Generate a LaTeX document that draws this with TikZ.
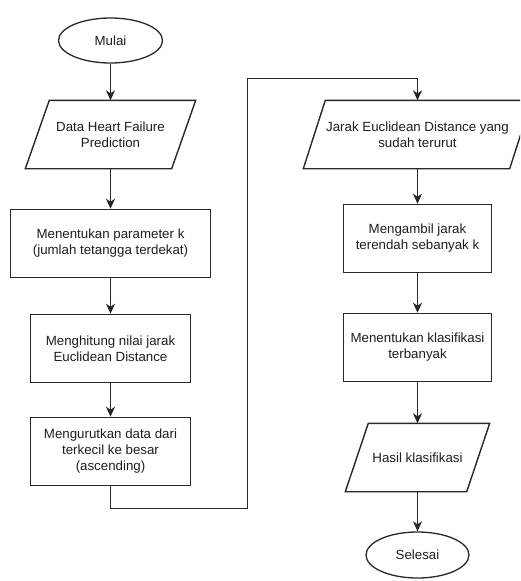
\documentclass[tikz,border=0pt]{standalone}
\usepackage{fontspec}
\setmainfont{Liberation Sans}
\usetikzlibrary{arrows.meta,calc,shapes.geometric}
\definecolor{ln}{RGB}{40,40,40}
\definecolor{tx}{RGB}{30,30,30}
\begin{document}
\begin{tikzpicture}[x=1pt,y=-1pt,
  every node/.style={font=\fontsize{13.3}{16}\selectfont, text=tx, align=center, inner sep=0pt},
  boxstyle/.style={draw=ln, line width=1.5pt, rectangle},
  ellstyle/.style={draw=ln, line width=1.3pt, ellipse, minimum width=104pt, minimum height=45pt},
  iobox/.style={rectangle, draw=none},
  lnk/.style={draw=ln, line width=1.5pt, -{Stealth[length=10pt,width=9pt,inset=3pt]}},
  para/.style={draw=ln, line width=1.4pt, line join=miter}
]
\useasboundingbox (0,0) rectangle (520,581);
\clip (0,0) rectangle (520,581);

% left column
\node[ellstyle] (mulai) at (110.5,40.5) {Mulai};
\node[iobox, minimum width=170pt, minimum height=68pt] (data) at (110.5,134.5) {Data Heart Failure\\Prediction};
\draw[para] ([xshift=24pt]data.north west) -- (data.north east) -- ([xshift=-24pt]data.south east) -- (data.south west) -- cycle;
\node[boxstyle, minimum width=200pt, minimum height=68pt] (param) at (110.5,243.5) {Menentukan parameter k\\(jumlah tetangga terdekat)};
\node[boxstyle, minimum width=160pt, minimum height=68pt] (hitung) at (110.5,348.5) {Menghitung nilai jarak\\Euclidean Distance};
\node[boxstyle, minimum width=160pt, minimum height=68pt] (urut) at (110.5,451.5) {Mengurutkan data dari\\terkecil ke besar\\(ascending)};

% right column
\node[iobox, minimum width=228pt, minimum height=68pt] (jarak) at (417.5,134.5) {Jarak Euclidean Distance yang\\sudah terurut};
\draw[para] ([xshift=22pt]jarak.north west) -- (jarak.north east) -- ([xshift=-22pt]jarak.south east) -- (jarak.south west) -- cycle;
\node[boxstyle, minimum width=148pt, minimum height=68pt] (ambil) at (417.5,238.5) {Mengambil jarak\\terendah sebanyak k};
\node[boxstyle, minimum width=148pt, minimum height=68pt] (klas) at (417.5,347.5) {Menentukan klasifikasi\\terbanyak};
\node[iobox, minimum width=144pt, minimum height=68pt] (hasil) at (417.5,457.5) {Hasil klasifikasi};
\draw[para] ([xshift=23pt]hasil.north west) -- (hasil.north east) -- ([xshift=-23pt]hasil.south east) -- (hasil.south west) -- cycle;
\node[ellstyle, minimum width=103pt, minimum height=46pt] (selesai) at (417.5,555) {Selesai};

% connectors
\draw[lnk] (mulai) -- (data.north);
\draw[lnk] (data.south) -- (param);
\draw[lnk] (param) -- (hitung);
\draw[lnk] (hitung) -- (urut);
\coordinate (lb) at (247.5,508.5);
\coordinate (lt) at (247.5,78.5);
\draw[lnk, line join=miter] (urut.south) |- (lb) -- (lt) -| (jarak.north);
\draw[lnk] (jarak.south) -- (ambil);
\draw[lnk] (ambil) -- (klas);
\draw[lnk] (klas) -- (hasil.north);
\draw[lnk] (hasil.south) -- (selesai);
\end{tikzpicture}
\end{document}
